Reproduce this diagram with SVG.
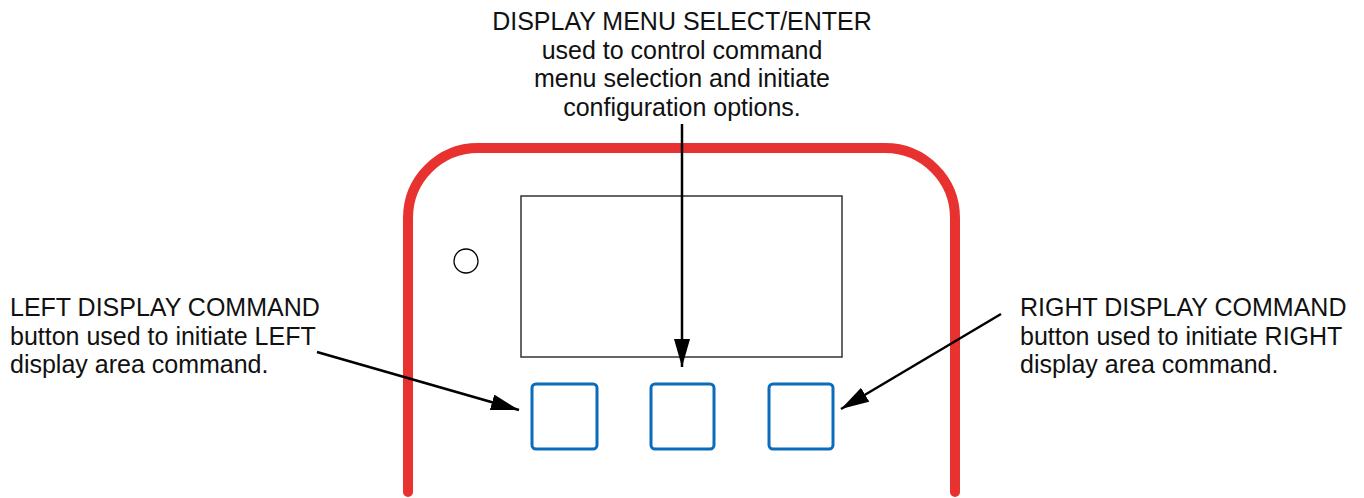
<svg xmlns="http://www.w3.org/2000/svg" width="1364" height="498" viewBox="0 0 1364 498">
<style>
text{font-family:"Liberation Sans",Arial,sans-serif;font-size:25px;fill:#111}
.btn{fill:none;stroke:#0b6cbb;stroke-width:3}
.lead{stroke:#000;stroke-width:2.5;fill:none;marker-end:url(#ah)}
</style>
<defs>
<marker id="ah" markerUnits="userSpaceOnUse" viewBox="0 0 28 16" markerWidth="28" markerHeight="16" refX="28" refY="8" orient="auto">
<path d="M0,0 L28,8 L0,16 Z" fill="#000"/>
</marker>
</defs>
<rect width="1364" height="498" fill="#fff"/>
<g id="housing">
<path d="M408,492 V218 A70,70 0 0 1 478,148 H885 A70,70 0 0 1 955,218 V492" fill="none" stroke="#e8322f" stroke-width="10" stroke-linecap="round"/>
</g>
<g id="display"><rect x="521" y="196" width="321" height="161" fill="none" stroke="#333" stroke-width="1.5"/></g>
<g id="indicator"><circle cx="466" cy="261" r="12" fill="none" stroke="#000" stroke-width="1.3"/></g>
<g id="btn-left"><rect class="btn" x="532" y="384" width="65" height="65" rx="4"/></g>
<g id="btn-center"><rect class="btn" x="651" y="384" width="63" height="65" rx="4"/></g>
<g id="btn-right"><rect class="btn" x="769" y="384" width="64" height="65" rx="4"/></g>
<g id="label-top">
<text x="682" y="30" text-anchor="middle">DISPLAY MENU SELECT/ENTER</text>
<text x="682" y="58.7" text-anchor="middle">used to control command</text>
<text x="682" y="87.3" text-anchor="middle">menu selection and initiate</text>
<text x="682" y="116" text-anchor="middle">configuration options.</text>
</g>
<g id="label-left">
<text x="10" y="316">LEFT DISPLAY COMMAND</text>
<text x="10" y="344.5">button used to initiate LEFT</text>
<text x="10" y="373">display area command.</text>
</g>
<g id="label-right">
<text x="1020" y="316">RIGHT DISPLAY COMMAND</text>
<text x="1020" y="344.5">button used to initiate RIGHT</text>
<text x="1020" y="373">display area command.</text>
</g>
<g id="connectors">
<line class="lead" x1="682" y1="124" x2="682" y2="367"/>
<line class="lead" x1="317" y1="352" x2="519" y2="410"/>
<line class="lead" x1="1001" y1="314" x2="841" y2="409"/>
</g>
</svg>
